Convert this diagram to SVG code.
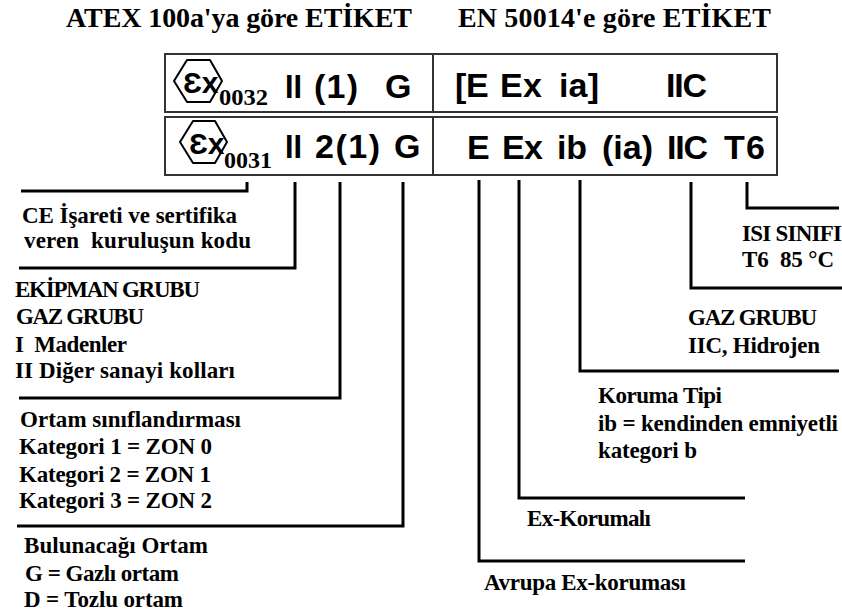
<svg xmlns="http://www.w3.org/2000/svg" width="842" height="613" viewBox="0 0 842 613">
<style>
.t{font-family:"Liberation Serif",serif;font-weight:bold;font-size:28px;fill:#000}
.s{font-family:"Liberation Serif",serif;font-weight:bold;font-size:23px;fill:#000}
.a{font-family:"Liberation Sans",sans-serif;font-weight:bold;font-size:34px;fill:#000}
.n{font-family:"Liberation Serif",serif;font-weight:bold;font-size:23px;fill:#000}
.m{font-family:"Liberation Sans",sans-serif;font-weight:bold;font-size:30px;fill:#000}
.hex{fill:none;stroke:#000;stroke-width:2;stroke-linejoin:round}
.box{fill:#fff;stroke:#333;stroke-width:2}
.div{stroke:#333;stroke-width:2}
.c{fill:none;stroke:#000;stroke-width:3}
</style>
<rect width="842" height="613" fill="#fff"/>
<g id="titles">
<text class="t" x="66" y="27" textLength="346">ATEX 100a'ya göre ETİKET</text>
<text class="t" x="458" y="27" textLength="313">EN 50014'e göre ETİKET</text>
</g>
<g id="label-top">
<rect class="box" x="165" y="54" width="612" height="58"/>
<line class="div" x1="433" y1="54" x2="433" y2="112"/>
<path class="hex" d="M174 81L187 60H210L222 81L210 102H187Z"/>
<text class="m" x="183" y="93">Ɛx</text>
<text class="n" x="219" y="105" textLength="49" lengthAdjust="spacingAndGlyphs">0032</text>
<text class="a" x="285" y="98" textLength="17" lengthAdjust="spacingAndGlyphs">II</text>
<text class="a" x="314" y="98" textLength="44">(1)</text>
<text class="a" x="385" y="98">G</text>
<text class="a" x="455" y="97">[</text>
<text class="a" x="466" y="97">E</text>
<text class="a" x="500" y="97" textLength="42">Ex</text>
<text class="a" x="559" y="97" textLength="40">ia]</text>
<text class="a" x="666" y="97" textLength="41">IIC</text>
</g>
<g id="label-bottom">
<rect class="box" x="165" y="117" width="612" height="58"/>
<line class="div" x1="433" y1="117" x2="433" y2="175"/>
<path class="hex" d="M180 142L193 121H215L227 142L215 163H193Z"/>
<text class="m" x="189" y="154">Ɛx</text>
<text class="n" x="224" y="168" textLength="48" lengthAdjust="spacingAndGlyphs">0031</text>
<text class="a" x="285" y="158" textLength="17" lengthAdjust="spacingAndGlyphs">II</text>
<text class="a" x="315" y="158" textLength="65">2(1)</text>
<text class="a" x="394" y="158">G</text>
<text class="a" x="467" y="159">E</text>
<text class="a" x="502" y="159" textLength="41">Ex</text>
<text class="a" x="557" y="159" textLength="30">ib</text>
<text class="a" x="602" y="159" textLength="51">(ia)</text>
<text class="a" x="667" y="159" textLength="41">IIC</text>
<text class="a" x="724" y="159" textLength="41">T6</text>
</g>
<g id="connectors">
<path class="c" d="M247 182V191H21"/>
<path class="c" d="M295 182V268H19"/>
<path class="c" d="M340 182V398H19"/>
<path class="c" d="M403 182V526H17"/>
<path class="c" d="M479 180V561H745"/>
<path class="c" d="M519 180V498H745"/>
<path class="c" d="M580 180V371H839"/>
<path class="c" d="M691 182V288H842"/>
<path class="c" d="M747 182V208H839"/>
</g>
<g id="note-ce"><text class="s" x="22" y="223" textLength="215">CE İşareti ve sertifika</text><text class="s" x="24" y="248" textLength="227" xml:space="preserve">veren  kuruluşun kodu</text></g>
<g id="note-ekipman"><text class="s" x="15" y="297" textLength="185">EKİPMAN GRUBU</text><text class="s" x="16" y="324" textLength="128">GAZ GRUBU</text><text class="s" x="15" y="352" textLength="112" xml:space="preserve">I  Madenler</text><text class="s" x="15" y="378" textLength="220">II Diğer sanayi kolları</text></g>
<g id="note-ortam"><text class="s" x="20" y="427" textLength="221">Ortam sınıflandırması</text><text class="s" x="19" y="454" textLength="193">Kategori 1 = ZON 0</text><text class="s" x="19" y="482" textLength="192">Kategori 2 = ZON 1</text><text class="s" x="19" y="508" textLength="193">Kategori 3 = ZON 2</text></g>
<g id="note-bulunacagi"><text class="s" x="24" y="553" textLength="184">Bulunacağı Ortam</text><text class="s" x="25" y="581" textLength="154">G = Gazlı ortam</text><text class="s" x="24" y="607" textLength="159">D = Tozlu ortam</text></g>
<g id="note-avrupa"><text class="s" x="484" y="590" textLength="202">Avrupa Ex-koruması</text></g>
<g id="note-ex"><text class="s" x="527" y="526" textLength="124">Ex-Korumalı</text></g>
<g id="note-koruma"><text class="s" x="598" y="403" textLength="124">Koruma Tipi</text><text class="s" x="598" y="431" textLength="240">ib = kendinden emniyetli</text><text class="s" x="598" y="458" textLength="99">kategori b</text></g>
<g id="note-gaz"><text class="s" x="688" y="325" textLength="129">GAZ GRUBU</text><text class="s" x="688" y="353" textLength="132">IIC, Hidrojen</text></g>
<g id="note-isi"><text class="s" x="742" y="241" textLength="100">ISI SINIFI</text><text class="s" x="742" y="267" textLength="92" xml:space="preserve">T6  85 °C</text></g>
</svg>
